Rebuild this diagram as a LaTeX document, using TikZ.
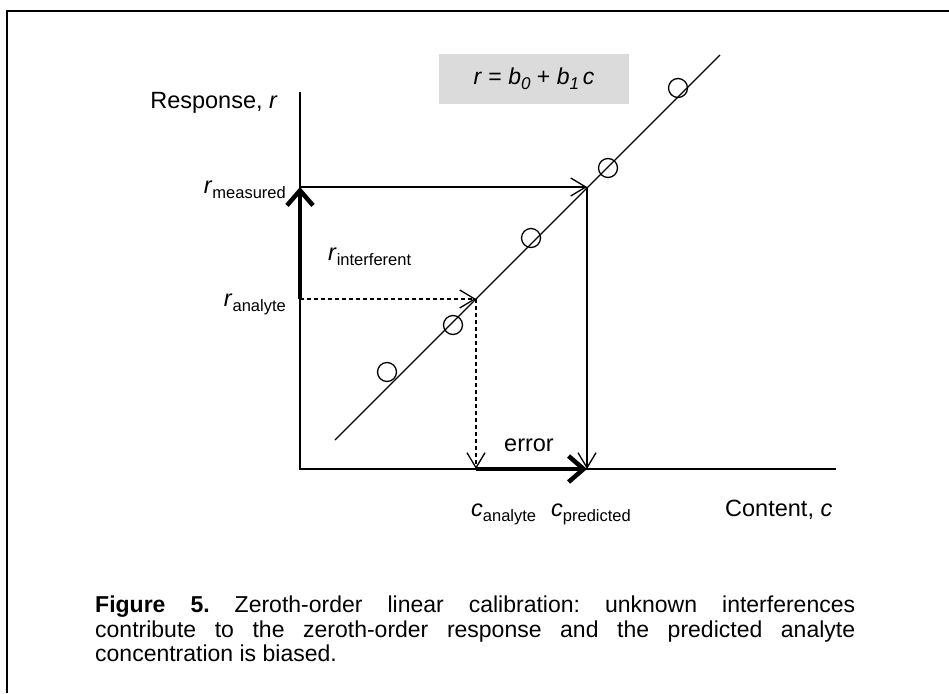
\documentclass[tikz,border=0pt]{standalone}
\usepackage{fontspec}
\setmainfont{Liberation Sans}
\usetikzlibrary{arrows.meta}
\newcommand\lblsub[1]{\raisebox{-0.45ex}{\fontsize{16.5}{17}\selectfont #1}}
\newcommand\eqsub[1]{\raisebox{-0.45ex}{\fontsize{17}{17}\selectfont #1}}
\begin{document}
\begin{tikzpicture}[x=1pt,y=-1pt,
  thin line/.style={line width=1.3pt},
  open tip/.style={-{Straight Barb[length=15pt,width=18pt,line width=1.3pt]}},
  bold arrow/.style={line width=4.5pt,-{Straight Barb[length=15pt,width=26pt,line width=4.5pt]}},
  dashline/.style={thin line,dash pattern=on 4pt off 3pt},
  lbl/.style={inner sep=0pt,font=\fontsize{23.5}{26}\selectfont},
  dot/.style={circle,draw,thin line,minimum size=19pt,inner sep=0pt}]
\useasboundingbox (0,0) rectangle (949,693);
% page frame
\draw[line width=2.5pt] (7,693) -- (7,11) -- (949,11);

% axes
\coordinate (origin) at (300,469);
\coordinate (ytop) at (300,92);
\coordinate (xend) at (836,469);
\draw[thin line] (ytop) -- (origin) -- (xend);
\node[lbl,anchor=base east] (ylab) at (278,108) {Response, \textit{r}};
\node[lbl,anchor=base west] (xlab) at (725,516) {Content, \textit{c}};

% calibration equation
\node[fill=black!14,minimum width=190pt,minimum height=49pt,inner sep=0pt,
      font=\fontsize{23}{26}\selectfont] (eq) at (534,79)
  {\textit{r} = \textit{b}\eqsub{\textit{0}} + \textit{b}\eqsub{\textit{1}}\,\textit{c}};

% calibration line and standards
\coordinate (lineA) at (335,440);
\coordinate (lineB) at (720,55);
\draw[thin line] (lineA) -- (lineB);
\node[dot] (s1) at (387,372) {};
\node[dot] (s2) at (453,325) {};
\node[dot] (s3) at (531,238) {};
\node[dot] (s4) at (608,168) {};
\node[dot] (s5) at (678,88) {};

% response levels and the concentrations read back from the line
\coordinate (rm) at (300,187);
\coordinate (ra) at (300,299);
\coordinate (pm) at (587,187);
\coordinate (pa) at (476,299);
\coordinate (cp) at (587,469);
\coordinate (ca) at (476,469);

\draw[thin line,open tip] (rm) -- (pm);
\draw[thin line,open tip] (pm) -- (cp);
\draw[dashline,open tip] (ra) -- (pa);
\draw[dashline,open tip] (pa) -- (ca);
\draw[bold arrow] (ra) -- (rm);
\draw[bold arrow] (ca) -- (cp);

% labels
\node[lbl,anchor=base east] (lrm) at (286,193) {\textit{r}\lblsub{measured}};
\node[lbl,anchor=base east] (lra) at (286,306) {\textit{r}\lblsub{analyte}};
\node[lbl,anchor=base west] (lri) at (328,260) {\textit{r}\lblsub{interferent}};
\node[lbl,anchor=base] (lerr) at (529,451) {error};
\node[lbl,anchor=base west] (lca) at (471,516) {\textit{c}\lblsub{analyte}};
\node[lbl,anchor=base] (lcp) at (591,516) {\textit{c}\lblsub{predicted}};

% caption
\node[anchor=north west,inner sep=0pt,text width=760pt,align=justify,
      font=\fontsize{23}{24.5}\selectfont] (cap) at (95,596)
  {\frenchspacing\textbf{Figure 5.} Zeroth-order linear calibration: unknown interferences\linebreak
   contribute to the zeroth-order response and the predicted analyte\linebreak
   concentration is biased.};
\end{tikzpicture}
\end{document}
